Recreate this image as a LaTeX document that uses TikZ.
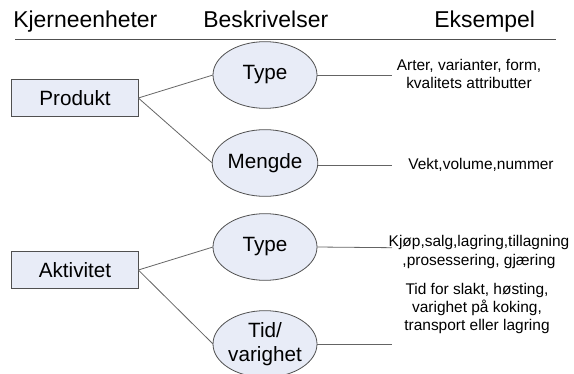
\documentclass[tikz,border=0pt]{standalone}
\usepackage{fontspec}
\setmainfont{Liberation Sans}
\usetikzlibrary{shapes.geometric}
\definecolor{boxfill}{RGB}{232,236,247}
\definecolor{edgegray}{RGB}{80,80,80}
\definecolor{linkgray}{RGB}{100,100,100}
\tikzset{
  x=0.75pt, y=-0.75pt,
  head/.style={anchor=base west, inner sep=0pt, font=\fontsize{17.2}{20}\selectfont},
  unit/.style={draw=edgegray, line width=0.6pt, fill=boxfill, rectangle,
    minimum width=95pt, minimum height=28pt, inner sep=0pt, outer sep=0pt,
    font=\fontsize{15.5}{18}\selectfont},
  desc/.style={draw=edgegray, line width=0.6pt, fill=boxfill, ellipse,
    minimum width=78pt, minimum height=50pt, inner sep=0pt, outer sep=0pt,
    align=center, font=\fontsize{15.5}{18.5}\selectfont},
  example/.style={align=center, inner sep=0pt, font=\fontsize{11.6}{13.5}\selectfont},
  link/.style={draw=linkgray, line width=0.6pt},
}
\begin{document}
\begin{tikzpicture}
\useasboundingbox (0,0) rectangle (574,374);

% column headings and rule
\node[head] (h1) at (13,28) {Kjerneenheter};
\node[head] (h2) at (203,28) {Beskrivelser};
\node[head] (h3) at (434,28) {Eksempel};
\coordinate (rl) at (15,39.5);
\coordinate (rr) at (556,39.5);
\draw[edgegray, line width=0.7pt] (rl) -- (rr);

% core units
\node[unit] (prod) at (75,98) {Produkt};
\node[unit] (akt) at (75,270) {Aktivitet};

% descriptors
\node[desc] (typ1) at (265,75) {Type};
\node[desc] (meng) at (265,163) {Mengde};
\node[desc] (typ2) at (265,247) {Type};
\node[desc] (tid) at (265,344) {Tid/\\varighet};

% unit -> descriptor links
\draw[link] (prod.east) -- (typ1.west);
\draw[link] (prod.east) -- (meng.west);
\draw[link] (akt.east) -- (typ2.west);
\draw[link] (akt.east) -- (tid.west);

% descriptor -> example links
\coordinate (e1) at (392,75);
\coordinate (e2) at (392,165.5);
\coordinate (e3) at (392,247.7);
\coordinate (e4) at (392,344);
\draw[link] (typ1.east) -- (e1);
\draw[link] (meng.east |- e2) -- (e2);
\draw[link] (typ2.east) -- (e3);
\draw[link] (tid.east) -- (e4);

% examples
\node[example] (x1) at (469,74) {Arter, varianter, form,\\kvalitets attributter};
\node[example] (x2) at (481,165) {Vekt,volume,nummer};
\node[example] (x3) at (479,252) {Kjøp,salg,lagring,tillagning\\,prosessering, gjæring};
\node[example] (x4) at (477,308) {Tid for slakt, høsting,\\varighet på koking,\\transport eller lagring};
\end{tikzpicture}
\end{document}
